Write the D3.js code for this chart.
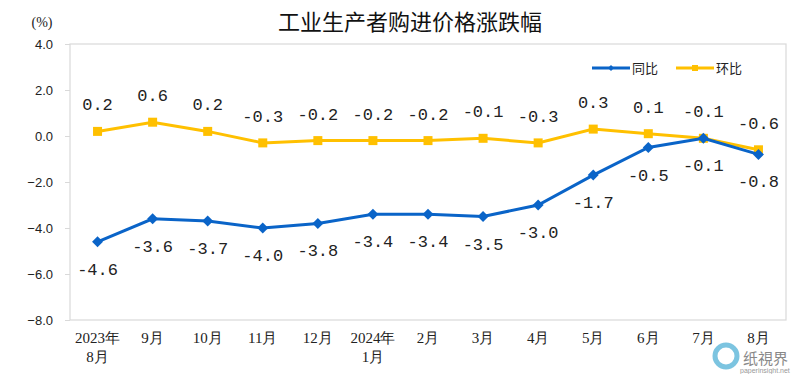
<!DOCTYPE html>
<html><head><meta charset="utf-8">
<script src="https://cdn.jsdelivr.net/npm/d3@7"></script>
<style>body{margin:0;background:#fff}svg{display:block}</style>
</head><body><svg id="c" width="800" height="374"></svg>
<script>
const categories = [["2023年","8月"],["9月"],["10月"],["11月"],["12月"],["2024年","1月"],["2月"],["3月"],["4月"],["5月"],["6月"],["7月"],["8月"]];
const yoy = [-4.6,-3.6,-3.7,-4.0,-3.8,-3.4,-3.4,-3.5,-3.0,-1.7,-0.5,-0.1,-0.8];
const mom = [0.2,0.6,0.2,-0.3,-0.2,-0.2,-0.2,-0.1,-0.3,0.3,0.1,-0.1,-0.6];
const yTicks = [4,2,0,-2,-4,-6,-8];
const seriesNames = ["同比","环比"];
const title = "工业生产者购进价格涨跌幅";

const svg = d3.select("#c");
const L=70,R=786,T=44,B=320;
const x = d3.scaleBand().domain(d3.range(categories.length)).range([L,R]);
const cx = i => x(i)+x.bandwidth()/2;
const y = d3.scaleLinear().domain([-8,4]).range([B,T]);
const blue="#0a64c8", yellow="#ffc000";

svg.append("rect").attr("x",L).attr("y",T).attr("width",R-L).attr("height",B-T)
  .attr("fill","none").attr("stroke","#d9d9d9").attr("stroke-width",1.2);

// y axis
const ya = svg.append("g").attr("transform",`translate(${L},0)`)
  .call(d3.axisLeft(y).tickValues(yTicks).tickFormat(d3.format(".1f")).tickSize(5).tickPadding(12));
ya.select(".domain").remove();
ya.selectAll("line").attr("stroke","#d9d9d9");
ya.selectAll("text").attr("font-family","Liberation Sans, Arial, sans-serif").attr("font-size",13).attr("fill","#222");

// x labels
const xa = svg.append("g");
categories.forEach((c,i)=>{
  c.forEach((s,j)=>{
    xa.append("text").attr("x",cx(i)).attr("y",343+j*19).attr("text-anchor","middle")
      .attr("font-family","Liberation Serif, DejaVu Serif, serif").attr("font-size",15).attr("fill","#222").text(s);
  });
});

// title
svg.append("text").attr("x",410).attr("y",30).attr("text-anchor","middle")
  .attr("font-family","Noto Sans CJK SC, sans-serif").attr("font-size",22).attr("fill","#111").text(title);
svg.append("text").attr("x",42).attr("y",27).attr("text-anchor","middle")
  .attr("font-family","Liberation Serif, serif").attr("font-size",14).attr("fill","#222").text("(%)");

const line = d3.line().x((d,i)=>cx(i)).y(d=>y(d));
// mom (yellow)
svg.append("path").datum(mom).attr("d",line).attr("fill","none").attr("stroke",yellow).attr("stroke-width",3);
svg.selectAll(".sq").data(mom).join("rect").attr("x",(d,i)=>cx(i)-4.5).attr("y",d=>y(d)-4.5)
  .attr("width",9).attr("height",9).attr("fill",yellow);
// yoy (blue)
svg.append("path").datum(yoy).attr("d",line).attr("fill","none").attr("stroke",blue).attr("stroke-width",3);
svg.selectAll(".dm").data(yoy).join("path")
  .attr("d",d3.symbol(d3.symbolSquare,60)).attr("transform",(d,i)=>`translate(${cx(i)},${y(d)}) rotate(45)`).attr("fill",blue);

const lblFont = "Liberation Mono, DejaVu Sans Mono, monospace";
const fmt = v => v.toFixed(1);
svg.selectAll(".lm").data(mom).join("text").attr("x",(d,i)=>cx(i)).attr("y",d=>y(d)-21)
  .attr("text-anchor","middle").attr("font-family",lblFont).attr("font-size",17).attr("fill","#222").text(fmt);
svg.selectAll(".ly").data(yoy).join("text").attr("x",(d,i)=>cx(i)).attr("y",d=>y(d)+33)
  .attr("text-anchor","middle").attr("font-family",lblFont).attr("font-size",17).attr("fill","#222").text(fmt);

// legend
const lg = svg.append("g");
[[blue,592,seriesNames[0],"d"],[yellow,676,seriesNames[1],"s"]].forEach(([c,x0,t,m])=>{
  lg.append("line").attr("x1",x0).attr("x2",x0+38).attr("y1",68).attr("y2",68).attr("stroke",c).attr("stroke-width",3);
  if(m==="d") lg.append("path").attr("d",d3.symbol(d3.symbolSquare,18)).attr("transform",`translate(${x0+19},68) rotate(45)`).attr("fill",c);
  else lg.append("rect").attr("x",x0+16).attr("y",65).attr("width",6).attr("height",6).attr("fill",c);
  lg.append("text").attr("x",x0+40).attr("y",73).attr("font-family","Noto Sans CJK SC, sans-serif").attr("font-size",13).attr("fill","#222").text(t);
});

// watermark
const wm = svg.append("g");
wm.append("circle").attr("cx",726).attr("cy",356).attr("r",11).attr("fill","none").attr("stroke","#5bb5d8").attr("stroke-width",5).attr("opacity",0.8);
wm.append("text").attr("x",743).attr("y",364).attr("font-family","Noto Sans CJK SC, sans-serif").attr("font-size",15).attr("fill","#888").text("纸視界");
wm.append("text").attr("x",740).attr("y",373).attr("font-family","Liberation Sans, sans-serif").attr("font-size",7).attr("fill","#999").text("paperinsight.net");
</script></body></html>
